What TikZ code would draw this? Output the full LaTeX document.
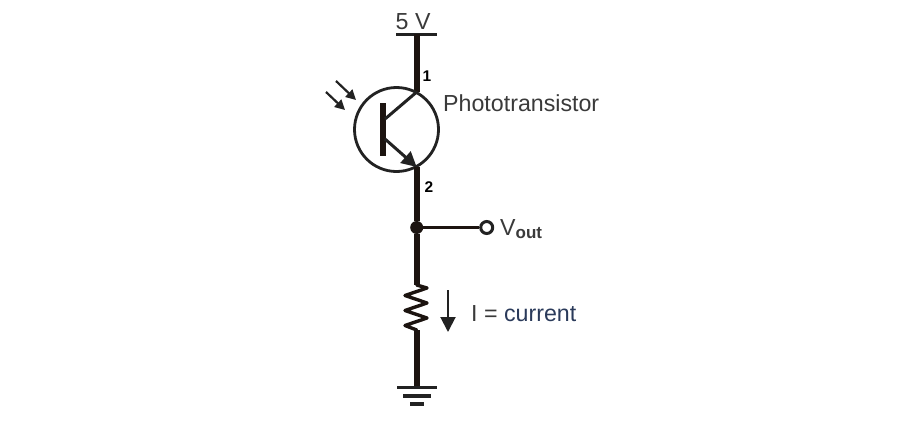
\documentclass[tikz,border=0pt]{standalone}
\usepackage{fontspec}
\setmainfont{Liberation Sans}
\usetikzlibrary{arrows.meta}
\definecolor{wirec}{HTML}{1C1410}
\definecolor{inkc}{HTML}{222222}
\definecolor{textc}{HTML}{3A3A3A}
\tikzset{
  x=1pt,y=-1pt,
  wire/.style={draw=wirec,line width=5.6pt},
  thinw/.style={draw=inkc,line width=3pt},
  light/.style={draw=inkc,line width=2.2pt,-{Triangle[length=10pt,width=10pt]}},
  lbl/.style={inner sep=0pt,text=textc,font=\fontsize{23.2}{25}\selectfont,anchor=base west},
  pin/.style={inner sep=0pt,text=black,font=\fontsize{15.5}{17}\bfseries\selectfont},
}
\begin{document}
\begin{tikzpicture}
\useasboundingbox[fill=white] (0,0) rectangle (900,421);
% named points
\coordinate (top) at (416.7,34);
\coordinate (col) at (416.7,92);
\coordinate (emi) at (416.7,167);
\coordinate (base1) at (385,119);
\coordinate (base2) at (385,139);
\coordinate (res1) at (416.7,285);
\coordinate (res2) at (416.7,330);
\coordinate (gnd) at (416.7,387);
% supply
\draw[thinw] (396,34) -- (437,34);
\draw[wire] (top) -- (col);
% transistor
\node[circle,draw=inkc,line width=2.8pt,minimum size=84pt,inner sep=0pt] (q) at (396.5,129.5) {};
\draw[draw=wirec,line width=6pt] (383,103) -- (383,156);
\draw[thinw] (base1) -- (col);
\draw[thinw,-{Triangle[length=15pt,width=15pt]}] (base2) -- (emi);
% light
\coordinate (l1a) at (336,81); \coordinate (l1b) at (356,100);
\coordinate (l2a) at (326,92); \coordinate (l2b) at (345,110);
\draw[light] (l1a) -- (l1b);
\draw[light] (l2a) -- (l2b);
% lower wire
\node[circle,fill=wirec,minimum size=13pt,inner sep=0pt] (j) at (416.7,227.5) {};
\node[circle,draw=inkc,fill=white,line width=3pt,minimum size=12pt,inner sep=0pt] (o) at (486.7,227.5) {};
\draw[wire] (emi) -- (j);
\draw[wire] (j) -- (res1);
\draw[draw=wirec,line width=3.4pt] (j) -- (o);
% resistor
\draw[draw=wirec,line width=3.4pt,line join=round,line cap=round]
  (res1) -- (427,288) -- (405,295.5) -- (427,303) -- (405,310.5) -- (427,318) -- (405,325.5) -- (res2);
\draw[wire] (res2) -- (gnd);
% ground
\draw[thinw] (397,387) -- (437,387);
\draw[thinw,line width=3.4pt] (403,396) -- (431,396);
\draw[thinw,line width=3.4pt] (410,404) -- (424,404);
% current arrow
\coordinate (ia) at (448,290); \coordinate (ib) at (448,332);
\draw[draw=inkc,line width=2pt,-{Triangle[length=15pt,width=15pt]}] (ia) -- (ib);
% labels
\node[lbl] (v5) at (395.5,29) {5 V};
\node[pin] (p1) at (427,76) {1};
\node[pin] (p2) at (429,187) {2};
\node[lbl] (pt) at (443,111) {Phototransistor};
\node[lbl] (vo) at (500,235) {V\raisebox{-3pt}{\fontsize{17}{18}\bfseries\selectfont out}};
\node[lbl] (ic) at (471,321) {I = \textcolor[HTML]{2A3A5A}{current}};
\end{tikzpicture}
\end{document}
